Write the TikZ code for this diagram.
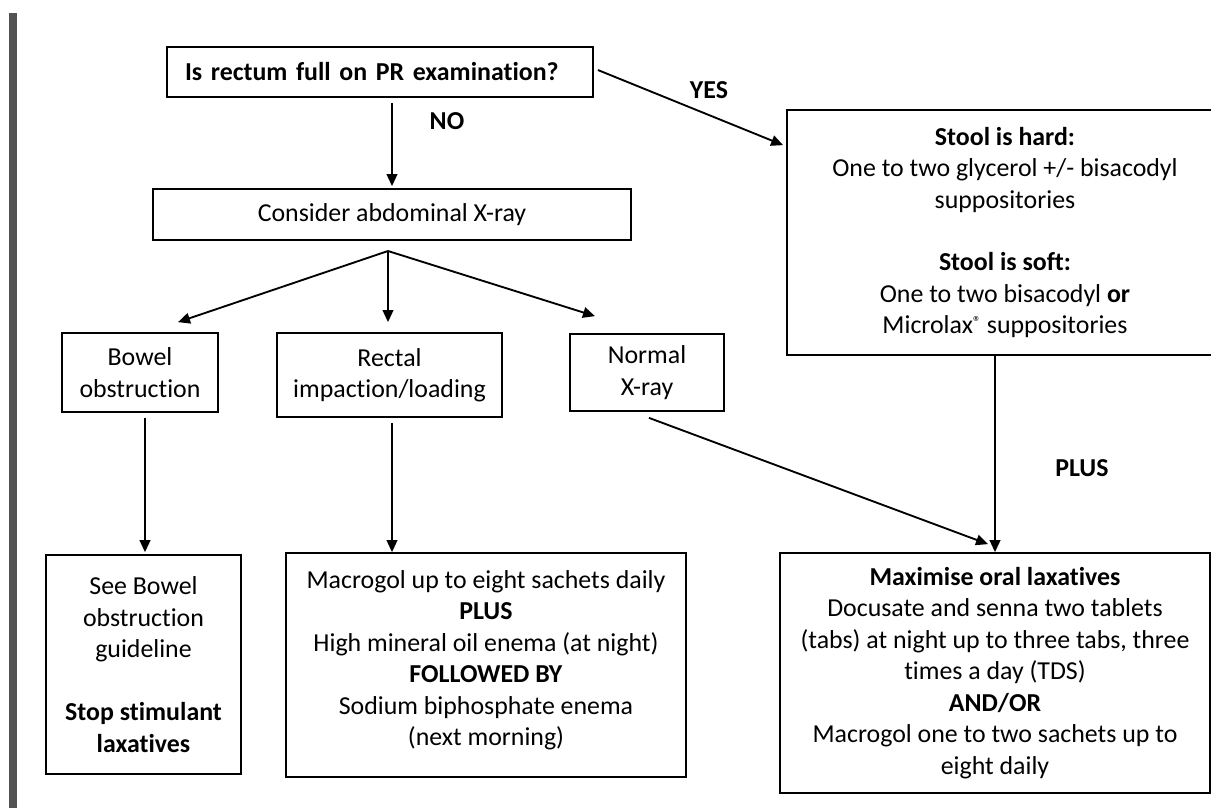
\documentclass[tikz,border=0pt]{standalone}
\usepackage{fontspec}
\setmainfont{Carlito}[Ligatures=NoCommon]
\usetikzlibrary{calc,arrows.meta}

\newcommand{\fs}{\fontsize{19.4pt}{23.6pt}\selectfont}
\newcommand{\regmark}{\raisebox{0.55ex}{\fontsize{12pt}{12pt}\selectfont\textregistered}}
\tikzset{
  box/.style={draw, line width=1.3pt, align=center, inner sep=0pt, font=\fs},
  arr/.style={line width=1.4pt, -{Triangle[length=9pt,width=8pt]}},
  lbl/.style={font=\fs\bfseries},
}

\begin{document}
\begin{tikzpicture}[x=0.75pt, y=-0.75pt]
  \useasboundingbox (0,0) rectangle (1211,808);

  % 左侧竖条
  \fill[gray!65!black] (9,13) rectangle (17,808);

  % 方框
  \node[box, minimum width=319.5pt, minimum height=37.5pt, text width=292.5pt,
        align=left, inner xsep=13.5pt] (q) at (380,72)
    {\bfseries Is rectum full on PR examination?};
  \node[box, minimum width=358.5pt, minimum height=38.25pt] (xray) at (392,214.5)
    {Consider abdominal X-ray};
  \node[box, minimum width=117pt, minimum height=59.25pt] (bowel) at (140,372.5)
    {Bowel\\obstruction};
  \node[box, minimum width=168.75pt, minimum height=63pt] (rectal) at (389.5,375)
    {Rectal\\impaction/loading};
  \node[box, minimum width=115.5pt, minimum height=57.75pt] (normal) at (647,372.5)
    {Normal\\X-ray};
  \node[box, minimum width=327pt, minimum height=183.75pt] (stool) at (1005,232.5)
    {\textbf{Stool is hard:}\\One to two glycerol +/- bisacodyl\\suppositories\\[23.6pt]
     \textbf{Stool is soft:}\\One to two bisacodyl \textbf{or}\\
     Microlax\regmark{} suppositories};
  \node[box, minimum width=146.25pt, minimum height=164.25pt] (seebowel) at (143.5,664.5)
    {See Bowel\\obstruction\\guideline\\[23.6pt]\textbf{Stop stimulant}\\\textbf{laxatives}};
  \node[box, minimum width=300pt, minimum height=168pt] (macrogol) at (486,665)
    {Macrogol up to eight sachets daily\\\textbf{PLUS}\\High mineral oil enema (at night)\\
     \textbf{FOLLOWED BY}\\Sodium biphosphate enema\\(next morning)\\[-13pt]};
  \node[box, minimum width=322.5pt, minimum height=180pt] (maxim) at (995,673)
    {\textbf{Maximise oral laxatives}\\Docusate and senna two tablets\\
     (tabs) at night up to three tabs, three\\times a day (TDS)\\\textbf{AND/OR}\\
     Macrogol one to two sachets up to\\eight daily};

  % 标签
  \node[lbl] (no) at (447,121) {NO};
  \node[lbl] (yes) at (709,90) {YES};
  \node[lbl] (plus) at (1082,468) {PLUS};

  % 箭头
  \draw[arr] ($(q.south -| xray.north)+(0,5)$) -- ($(xray.north)+(0,-2)$);
  \draw[arr] ($(q.east)+(4,-2)$) -- ($(stool.north west)+(-3,36)$);

  \coordinate (br) at (388,251);
  \draw[arr] (br) -- ($(bowel.north)+(38,-10)$);
  \draw[arr] (br) -- ($(rectal.north)+(-1.5,-10)$);
  \draw[arr] (br) -- ($(normal.north)+(-52,-17)$);

  \coordinate (bo) at ($(bowel.south)+(5,5)$);
  \coordinate (ro) at ($(rectal.south)+(2.5,5)$);
  \draw[arr] (bo) -- ($(bo |- seebowel.north)+(0,-2)$);
  \draw[arr] (ro) -- (ro |- macrogol.north);
  \draw[arr] ($(normal.south)+(2,6)$) -- ($(maxim.north)+(-7,-8)$);
  \draw[arr] (stool.south -| maxim.north) -- (maxim.north);
\end{tikzpicture}
\end{document}
